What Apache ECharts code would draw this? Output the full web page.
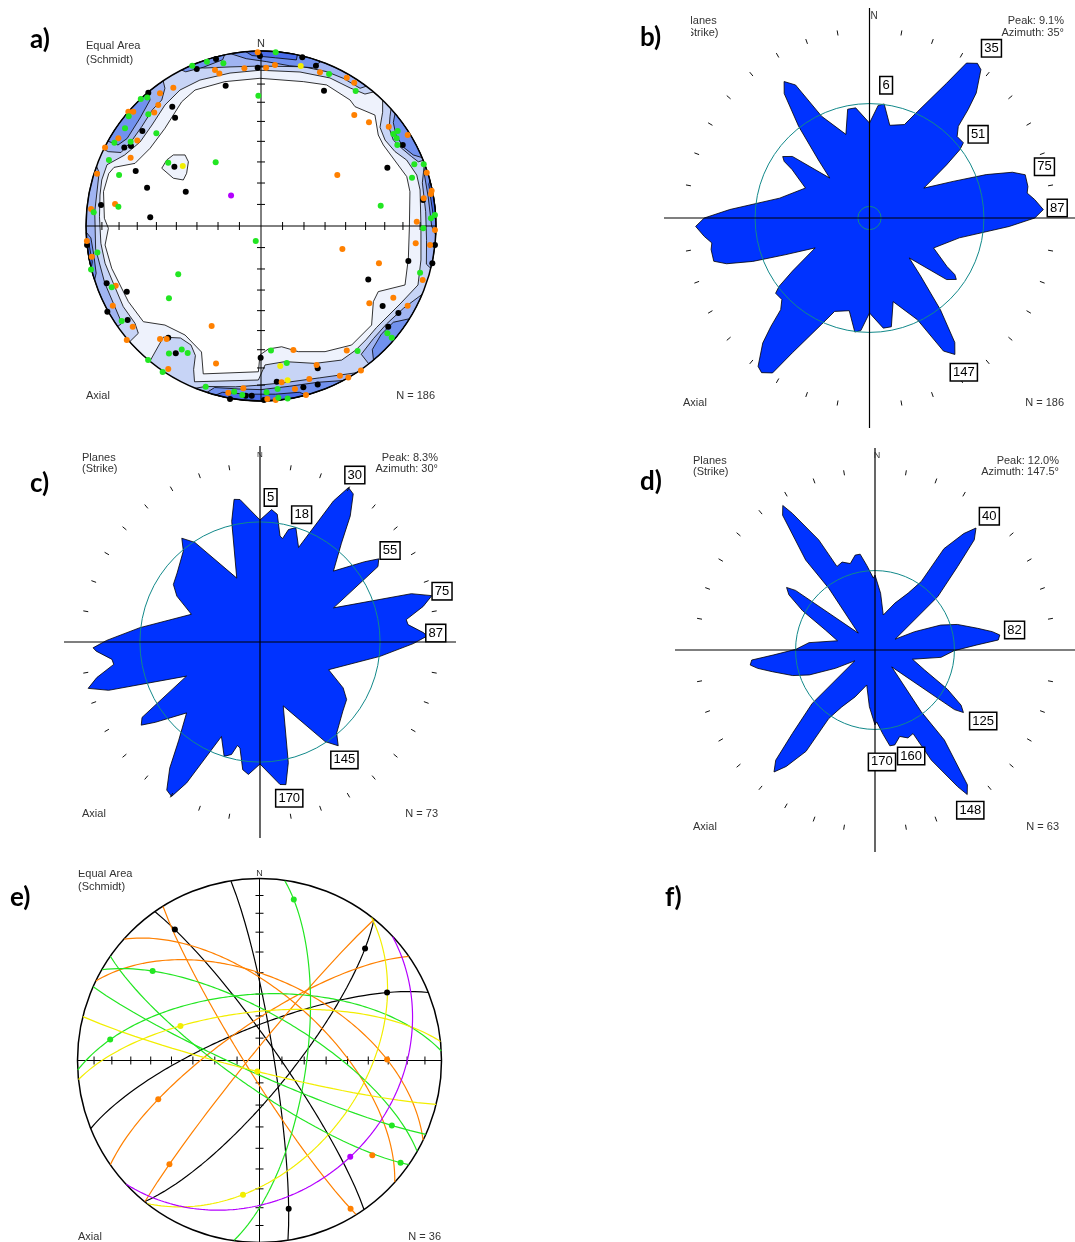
<!DOCTYPE html>
<html><head><meta charset="utf-8">
<script src="https://cdn.jsdelivr.net/npm/echarts/dist/echarts.min.js"></script>
<style>html,body{margin:0;padding:0;background:#fff}#c{width:1075px;height:1242px}</style>
</head><body><div id="c"></div><script>
// ---------------- DATA ----------------
// Rose b (strike, axial) : azimuth (deg) and frequency (%) for 0-180, mirrored
const roseB_az=[0,4.5,7.5,12.6,20.9,24.7,30.3,32.6,35.5,37.5,41.1,42.9,44.7,47.7,51.9,53.5,56,61.7,66.8,70,72.6,74.8,79,81.2,83.8,87.3,90,93.4,102.2,114.6,121.5,123,124.7,128,134.5,138,141.7,145,147.4,150.4,154.3,163.9,168.4,172.7];
const roseB_val=[4.55,5.41,5.51,4.55,4.79,5.60,7.47,8.81,9.10,8.96,7.95,7.09,6.18,5.80,5.84,5.51,4.55,3.02,4.45,6.08,7.33,7.90,7.90,7.81,8.14,8.52,8.09,6.85,4.50,3.45,4.45,4.98,5.17,4.79,2.73,3.74,5.60,7.28,7.76,7.33,5.41,4.17,5.32,5.32];
const roseB_labels=['6','35','51','75','87','147'];
const roseB_labelAz=[7.3,36.3,53,74,87,148];
const roseB_labelPx=[131,206,136,182,188,178];
// Rose c
const roseC_az=[0,5,7.7,10.7,12.3,14.2,17.4,22.2,27.5,29.8,32.2,35.6,39.5,46,52.5,55,57.4,65.1,72.3,74.9,77.7,81.3,83.3,86.8,88,90.6,96.8,112,118.9,123.6,129.8,139.9,143,146.8,160,166.8,169.7,172];
const roseC_val=[5.69,6.20,6.01,5.03,4.94,5.41,5.59,4.76,7.41,8.30,8.16,7.23,5.97,4.76,6.15,6.76,6.53,3.78,7.41,8.30,7.79,6.90,6.95,7.65,7.79,7.15,5.64,3.45,4.43,4.85,5.03,5.55,6.06,5.55,3.17,5.78,6.76,6.71];
const roseC_labels=['5','18','30','55','75','87','145','170'];
const roseC_labelAz=[4.2,18.1,29.6,54.9,74.4,87.1,144.4,169.4];
const roseC_labelPx=[145,134,192,159,189,176,145,159];
// Rose d
const roseD_az=[0,5.7,13.4,23.2,30.5,34.3,34.5,37.6,39.9,42.3,45,49.9,62,65.4,69.4,72.9,78.2,81.2,83.2,85.4,87.2,90.5,96.3,103.7,111.8,118.2,122.4,125,126.6,135,142.9,142.1,145.3,147.2,148.6,152.7,155.3,159.3,163.9,168.1,171.1,174.4,178.7];
const roseD_val=[5.23,3.98,2.51,3.56,4.61,5.79,8.58,10.26,11.10,10.40,8.23,5.79,1.61,3.07,4.95,6.07,7.40,8.37,8.86,8.72,7.19,5.58,4.68,2.72,3.77,5.79,7.19,7.61,6.98,1.67,5.37,7.96,11.44,12.0,11.17,8.65,6.42,6.56,6.28,6.77,6.77,5.93,5.02];
const roseD_labels=['40','82','125','148','160','170'];
const roseD_labelAz=[40.8,81.9,123,149,161,176.4];
const roseD_labelPx=[175,141,129,185,111,111];

// Stereonet a: poles, projected coordinates in percent of primitive radius (x east, y north)
const poleBlack=[[-25.7,95.4],[-36.7,89.7],[-64.4,76.2],[-50.7,68.2],[-49.1,61.9],[-67.8,54.3],[-78.1,44.8],[-74.3,45.7],[-71.6,31.4],[-65.1,21.9],[-43,19.6],[-49.5,33.9],[-20.2,80.2],[-91.4,12],[-63.3,5],[-1.9,90.5],[-0.6,97.1],[23.6,96.4],[31.4,91.6],[36,77.3],[81,46.3],[72.2,33.3],[92.6,14.9],[-99.4,-10.9],[-88.2,-32.7],[-76.7,-37.5],[-76.2,-53.7],[-87.8,-49],[-53,-63.8],[-48.7,-72.7],[-17.7,-98.9],[-8.7,-97],[-5.3,-97],[1.7,-99.4],[-0.2,-75.3],[9,-89],[24.2,-92.2],[32.4,-81.3],[32.4,-90.5],[69.5,-45.7],[78.5,-49.7],[72.7,-57.5],[61.3,-30.5],[84.2,-20],[97.9,-21.3],[99.4,-10.9]];
const poleOrange=[[-1.9,99.3],[-26.3,89.1],[-23.8,87.2],[-9.5,90.1],[-50.1,79],[-57.7,75.8],[-58.7,69.1],[-61,64.8],[-75.8,65.3],[-73,65.3],[-81.5,50.1],[-70.7,48.8],[-89.1,44.8],[-74.5,39],[-93.7,29.9],[-83.4,12.6],[-97.1,9.7],[2.9,90.5],[8,92],[33.7,87.8],[49,84.7],[53.3,81.9],[53.3,63.4],[61.7,59.3],[73,56.7],[83.8,52],[43.6,29.1],[94.7,30.5],[97.5,20.2],[93,15.8],[97.1,18.3],[89,2.5],[-96.7,-17.5],[-83,-34.1],[-84.7,-45.5],[-73.3,-57.5],[-76.7,-65.1],[-57.7,-64.6],[-53.9,-64.6],[-53,-81.7],[-28.2,-57.1],[-25.7,-78.5],[-18.7,-95.3],[-10.1,-92.7],[3.6,-98.9],[8.4,-99.4],[11.8,-89.3],[19.4,-93.1],[31.8,-79.4],[45.1,-85.5],[49.9,-86.6],[57.1,-82.5],[61.9,-44.2],[75.6,-41],[83.8,-45.5],[67.4,-21.3],[46.5,-13.1],[88.4,-9.9],[92.4,-30.9],[96.6,-10.9],[99.4,-2.3],[-99.5,-8.5],[18.5,-70.9],[49,-71.2],[27.6,-87.4],[25.7,-96.6]];
const poleGreen=[[-39.3,91.6],[-30.9,93.9],[-21.5,93],[-68.7,72.6],[-65,73.5],[-64.4,63.8],[-75.6,62.7],[-77.7,55.8],[-59.8,53],[-83.8,47.6],[-74.5,48.2],[-86.9,37.7],[-81.1,29.1],[-53,36.2],[-25.9,36.4],[-1.5,74.5],[-81.5,11],[-95.6,7.8],[8.4,99.3],[38.9,86.9],[54.1,77.1],[75.6,52.6],[78.1,54.3],[77.5,50.1],[77.9,46.3],[87.6,35.3],[93,35.3],[86.3,27.6],[68.4,11.6],[99.4,6.3],[97.1,4.4],[92.7,-1.3],[-93.5,-15.2],[-97.1,-24.8],[-85.3,-35],[-79.6,-54.3],[-52.6,-72.8],[-45.3,-70.5],[-41.9,-72.6],[-47.3,-27.6],[-52.6,-41.3],[-64.5,-76.5],[-56.2,-83.4],[-31.6,-91.8],[-15.3,-94.7],[-10.7,-96.6],[3.2,-95],[9.5,-93.1],[9.9,-98.1],[15.2,-98.5],[14.7,-78.3],[5.7,-71.2],[55.2,-71.4],[72.2,-61.3],[74.7,-63.8],[90.9,-26.7],[-3,-8.6]];
const poleYellow=[[-44.7,34.3],[22.7,91.4],[11,-80],[15.2,-88.2]];
const polePurple=[[-17.1,17.5]];

// Stereonet a: density contour edges (percent of radius)
const contourWhiteEdge=[[-0.6,84.4],[24.2,82.5],[37.5,80.6],[50.9,72],[53.7,68.2],[65.1,63.4],[67,52],[69.9,46.3],[83.3,28.2],[85.1,19.6],[84.8,-0.4],[84.2,-18.5],[82.3,-33.7],[67,-37.5],[64.2,-43.2],[63.2,-56.6],[51.8,-68],[36.6,-71.8],[21.3,-71.8],[11.8,-69],[4.2,-70.3],[-0.6,-73.7],[-1.5,-83.3],[-33,-84.5],[-34,-72],[-43.4,-62.3],[-54.9,-56.6],[-67.2,-54.7],[-75.8,-43.2],[-85.3,-24.2],[-89.1,-10.9],[-87.2,-1.3],[-89.5,4.4],[-90,19.6],[-87,30],[-84,33.5],[-72,35.8],[-63.4,44.4],[-54.9,55.8],[-45.3,71],[-37.7,77.7],[-20.6,82.5]];
const contourBand2Edge=[[-0.6,89],[22.3,88],[39.4,84.6],[50.9,78.9],[59.4,75.4],[64.3,76.6],[69.5,71.9],[69.5,65],[68,56.4],[70.9,49.1],[76.6,42.5],[83.2,37.7],[89,29.1],[90.9,20.6],[91.4,0],[91.4,-19.4],[89.7,-33.7],[80,-44],[72,-52],[66,-58],[60,-65],[54,-71],[46.1,-76.6],[30.9,-78.5],[13.7,-77.5],[2.3,-79.4],[-1.5,-88],[-38,-89],[-38.5,-82],[-37.5,-74],[-40,-68],[-46,-64],[-55.8,-63.5],[-63.5,-77.3],[-75,-66.1],[-70.1,-61.3],[-72,-55.6],[-78.7,-46.1],[-84.4,-32.7],[-89.1,-21.3],[-91.5,-9.9],[-92.3,5.3],[-92,17.7],[-91,26.3],[-88,35],[-78,40.5],[-69.1,48],[-62.3,57.7],[-54.9,69.1],[-46.3,77.7],[-34.9,83.4],[-17.7,87.4]];
const contourIsland=[[-56.7,33],[-53.9,37.7],[-50.1,40.6],[-43.4,40.6],[-41.5,36.7],[-42.5,30.1],[-44.4,26.3],[-50.1,27.3]];
const contourBand3=[
 [[-42.3,90.6],[60.2,79.9],[56.6,78.7],[47,84.4],[37.5,88.2],[24.2,91],[-0.6,91.4],[-17.7,90.9],[-32,90.3]],
 [[-89.9,43.8],[-55.9,82.9],[-54.9,78.7],[-56.7,72],[-62,66.5],[-68,57],[-74,48.5],[-80,42],[-87.3,42.5]],
 [[74.3,66.9],[92.7,37.5],[89.9,36.7],[86.1,39.6],[80.4,44.4],[75.6,49.1],[73.3,55.8],[73.7,62.5]],
 [[93.4,35.8],[97,-24.2],[94.5,-21.8],[94.6,-8.3],[94.1,8.2],[92.2,24.7]],
 [[92,-39.1],[61.6,-78.8],[57.3,-73.3],[64.3,-64.3],[71.7,-56],[81.4,-47]],
 [[54.5,-83.9],[-37.5,-92.7],[-31.6,-91.7],[-14.5,-91.9],[-1.6,-91],[14.2,-89.4],[33.3,-86.8]],
 [[-81.9,-57.4],[-94,34.2],[-92.5,30.5],[-95,8.2],[-94.5,-13.1],[-89.3,-32.5],[-79.5,-55.6]]
];
const contourBand4=[
 [[-17.4,98.5],[34.2,94],[29.4,90.4],[16.1,91.6],[3.3,93.9],[-8.4,95.6]],
 [[-45.4,89.1],[-20.8,97.8],[-21.9,95],[-33,90.7],[-43,88.1]],
 [[-87.5,48.5],[-64.3,76.6],[-63.4,72],[-69.1,61.7],[-76.5,50],[-81.7,46.3]],
 [[76.6,64.3],[92.1,39.1],[87,40.6],[81.3,45.1],[77.1,52],[75.6,59.1]],
 [[94,34.2],[99.9,-5.2],[97.5,0],[95.5,16.8],[93.2,30.3]],
 [[84.8,-53],[64.3,-76.6],[63.6,-70.6],[68.7,-61.9],[75.6,-55]],
 [[46.9,-88.3],[-30.9,-95.1],[-26.5,-92.3],[-13.1,-93.1],[0,-93.5],[16.1,-91.6],[32.5,-89.3]],
 [[-95.1,-30.9],[-99.9,-3.5],[-97.2,-6.8],[-95.5,-16.8],[-94.2,-27]]
];
const contourBand5=[
 [[-8.7,99.6],[20.8,97.8],[20.2,94.9],[8.4,96.1],[-5.1,97.4]],
 [[25.9,-96.6],[-25.9,-96.6],[-21.9,-95],[-8.4,-96.1],[8.4,-96.1],[21.9,-95]],
 [[96.6,25.9],[99.9,3.5],[98.3,6.9],[96.8,17.1],[95.9,23.9]],
 [[-97,-24.2],[-99.8,-7],[-98.3,-10.3],[-96.4,-20.5]]
];

// Stereonet e: planes (dip direction, dip), colour set, lineations on planes (trend), one pole
const ePlaneDipDir=[81,55,338,129,238,42,26,309,325,98,30,357,215,204,128,354,194,137];
const ePlaneDip=[83.5,82,75,76,84,60,53,86,74,69,69,60,78,84,44,68,85,28];
const ePlaneSet=['k','k','k','k','o','o','o','o','o','g','g','g','g','g','y','y','y','p'];
const eDotPlane=[1,3,2,0,6,4,8,7,9,10,11,12,13,14,15,16,17];
const eDotTrend=[327.2,43.2,61.9,168.9,89.6,148.5,249,220.9,12,310,278,126,116.2,187,293.7,191,136.8];
const ePoleX=[0.62], ePoleY=[-0.522], ePoleSet=['o'];

// ---------------- RENDER ----------------
const D=Math.PI/180;
const FONT='"Liberation Sans", Arial, sans-serif';
const COL={k:'#000000',o:'#ff8000',g:'#22e622',y:'#f2ee00',p:'#b400ff'};
const BAND=['#ffffff','#eef2fc','#c7d4f6','#a0b4f2','#7191ee','#4a6de9'];
const chart=echarts.init(document.getElementById('c'));

const gridDefs=[[86,51,350,100],[664,8,420,10.06],[64,446,392,9.14],[675,448,404,14.1],[77.5,879,364,1]];
const grids=gridDefs.map(g=>({left:g[0],top:g[1],width:g[2],height:g[2],containLabel:false,show:false}));
const xAxes=gridDefs.map((g,i)=>({type:'value',gridIndex:i,min:-g[3],max:g[3],show:false}));
const yAxes=gridDefs.map((g,i)=>({type:'value',gridIndex:i,min:-g[3],max:g[3],show:false}));

function densify(pts){
  const out=[],n=pts.length;
  const cl=p=>{const r=Math.hypot(p[0],p[1]);return r>100?[p[0]*100/r,p[1]*100/r]:p;};
  for(let i=0;i<n;i++){
    const a=pts[i],b=pts[(i+1)%n];
    out.push(cl(a));
    if(Math.hypot(a[0],a[1])>=99.3&&Math.hypot(b[0],b[1])>=99.3){
      const ta=Math.atan2(a[0],a[1]);let d=Math.atan2(b[0],b[1])-ta;
      while(d>Math.PI)d-=2*Math.PI;while(d<-Math.PI)d+=2*Math.PI;
      const st=Math.ceil(Math.abs(d)/(Math.PI/90));
      for(let k=1;k<st;k++){const t=ta+d*k/st;out.push([100*Math.sin(t),100*Math.cos(t)]);}
    }
  }
  return out;
}
function lineEl(p1,p2,w,c){return {type:'line',shape:{x1:p1[0],y1:p1[1],x2:p2[0],y2:p2[1]},style:{stroke:c||'#000',lineWidth:w}};}
function netFrame(api,unit,ch){
  const o=api.coord([0,0]),R=api.coord([unit,0])[0]-o[0];
  ch.push({type:'circle',shape:{cx:o[0],cy:o[1],r:R},style:{fill:'none',stroke:'#000',lineWidth:1.5}});
  ch.push(lineEl(api.coord([-unit,0]),api.coord([unit,0]),1));
  ch.push(lineEl(api.coord([0,-unit]),api.coord([0,unit]),1));
  for(let k=1;k<=8;k++){
    const rr=unit*Math.SQRT2*Math.sin(5*k*D);
    [[rr,0],[-rr,0]].forEach(q=>{const p=api.coord(q);ch.push(lineEl([p[0],p[1]-4],[p[0],p[1]+4],1));});
    [[0,rr],[0,-rr]].forEach(q=>{const p=api.coord(q);ch.push(lineEl([p[0]-4,p[1]],[p[0]+4,p[1]],1));});
  }
}
function renderNetA(params,api){
  const ch=[];const o=api.coord([0,0]),R=api.coord([100,0])[0]-o[0];
  const poly=(pts,fill)=>({type:'polygon',shape:{points:densify(pts).map(p=>api.coord(p))},style:{fill:fill,stroke:'#000',lineWidth:0.8}});
  ch.push({type:'circle',shape:{cx:o[0],cy:o[1],r:R},style:{fill:BAND[2]}});
  ch.push(poly(contourBand2Edge,BAND[1]));
  ch.push(poly(contourWhiteEdge,BAND[0]));
  ch.push(poly(contourIsland,BAND[1]));
  contourBand3.forEach(p=>ch.push(poly(p,BAND[3])));
  contourBand4.forEach(p=>ch.push(poly(p,BAND[4])));
  contourBand5.forEach(p=>ch.push(poly(p,BAND[5])));
  netFrame(api,100,ch);
  return {type:'group',children:ch};
}
function renderNetE(params,api){const ch=[];netFrame(api,1,ch);return {type:'group',children:ch};}

function makeRose(az,val,tickRing,range,labels,labAz,labPx,innerCircle){
  return function(params,api){
    const o=api.coord([0,0]),ppu=api.coord([1,0])[0]-o[0];
    const P=(v,a)=>api.coord([v*Math.sin(a*D),v*Math.cos(a*D)]);
    const pts=[];for(let h=0;h<2;h++)for(let i=0;i<az.length;i++)pts.push(P(val[i],az[i]+180*h));
    const ch=[];
    ch.push({type:'polygon',shape:{points:pts},style:{fill:'#0033ff',stroke:'#000',lineWidth:0.8}});
    ch.push({type:'circle',shape:{cx:o[0],cy:o[1],r:5.6*ppu},style:{fill:'none',stroke:'#12898a',lineWidth:1}});
    if(innerCircle)ch.push({type:'circle',shape:{cx:o[0],cy:o[1],r:innerCircle*ppu},style:{fill:'none',stroke:'#12898a',lineWidth:1}});
    ch.push(lineEl(api.coord([-range,0]),api.coord([range,0]),1.2));
    ch.push(lineEl(api.coord([0,-range]),api.coord([0,range]),1.2));
    for(let a=10;a<360;a+=10){if(a%90===0)continue;ch.push(lineEl(P(tickRing-2.5/ppu,a),P(tickRing+2.5/ppu,a),1,'#111'));}
    labels.forEach((t,i)=>{const p=P(labPx[i]/ppu,labAz[i]);
      ch.push({type:'text',x:p[0],y:p[1],style:{text:t,fontSize:13,fontFamily:FONT,fill:'#000',align:'center',verticalAlign:'middle',backgroundColor:'#fff',borderColor:'#000',borderWidth:1.5,padding:[2,2,1,2]}});});
    return {type:'group',children:ch};
  };
}
function proj(tr,pl){const r=Math.SQRT2*Math.sin((90-pl)/2*D);return [r*Math.sin(tr*D),r*Math.cos(tr*D)];}
function plungeOn(i,tr){let d=tr-ePlaneDipDir[i];while(d>180)d-=360;while(d<-180)d+=360;return Math.atan(Math.tan(ePlaneDip[i]*D)*Math.cos(d*D))/D;}

const series=[];
const cs=(gi,fn,z)=>({type:'custom',coordinateSystem:'cartesian2d',xAxisIndex:gi,yAxisIndex:gi,data:[[0,0]],renderItem:fn,silent:true,animation:false,clip:false,z:z});
series.push(cs(0,renderNetA,2));
series.push(cs(1,makeRose(roseB_az,roseB_val,9.0,10.06,roseB_labels,roseB_labelAz,roseB_labelPx,0.57),2));
series.push(cs(2,makeRose(roseC_az,roseC_val,8.25,9.14,roseC_labels,roseC_labelAz,roseC_labelPx,0),2));
series.push(cs(3,makeRose(roseD_az,roseD_val,12.56,14.1,roseD_labels,roseD_labelAz,roseD_labelPx,0),2));
series.push(cs(4,renderNetE,2));
[[poleBlack,'k'],[poleOrange,'o'],[poleGreen,'g'],[poleYellow,'y'],[polePurple,'p']].forEach(s=>{
  series.push({type:'scatter',xAxisIndex:0,yAxisIndex:0,data:s[0],symbolSize:6,itemStyle:{color:COL[s[1]],opacity:1},silent:true,animation:false,z:5});
});
ePlaneDipDir.forEach((dd,i)=>{
  const pts=[];for(let t=-90;t<=90;t+=1){pts.push(proj(dd+t,plungeOn(i,dd+t)));}
  series.push({type:'line',xAxisIndex:4,yAxisIndex:4,data:pts,showSymbol:false,symbol:'none',lineStyle:{color:COL[ePlaneSet[i]],width:1.2},silent:true,animation:false,z:3});
});
['k','o','g','y','p'].forEach(c=>{
  const d=[];
  eDotPlane.forEach((pi,j)=>{if(ePlaneSet[pi]===c)d.push(proj(eDotTrend[j],plungeOn(pi,eDotTrend[j])));});
  ePoleX.forEach((x,j)=>{if(ePoleSet[j]===c)d.push([x,ePoleY[j]]);});
  if(d.length)series.push({type:'scatter',xAxisIndex:4,yAxisIndex:4,data:d,symbolSize:6,itemStyle:{color:COL[c],opacity:1},silent:true,animation:false,z:5});
});

const T=(t,x,y,al,sz,z)=>({type:'text',x:x,y:y,z:z||100,style:{text:t,font:(sz||11)+'px '+FONT,fill:'#333',align:al||'left',verticalAlign:'middle'}});
const L=(t,x,y)=>({type:'text',x:x,y:y,z:110,style:{text:t,font:'bold 26px Lato, "Liberation Sans", sans-serif',fill:'#000',align:'left',verticalAlign:'middle'}});
const graphic=[
  T('Equal Area',86,46),T('(Schmidt)',86,60),T('N',261,44,'center'),T('Axial',86,396),T('N = 186',435,396,'right'),
  T('Planes',683,21),T('(Strike)',683,33),T('Peak: 9.1%',1064,21,'right'),T('Azimuth: 35°',1064,33,'right'),T('Axial',683,403),T('N = 186',1064,403,'right'),T('N',874,16,'center',10),
  T('Planes',82,458),T('(Strike)',82,469),T('Peak: 8.3%',438,458,'right'),T('Azimuth: 30°',438,469,'right'),T('Axial',82,814),T('N = 73',438,814,'right'),T('N',260,455,'center',8),
  T('Planes',693,461),T('(Strike)',693,472),T('Peak: 12.0%',1059,461,'right'),T('Azimuth: 147.5°',1059,472,'right'),T('Axial',693,827),T('N = 63',1059,827,'right'),T('N',877,456,'center',9),
  T('Equal Area',78,874),T('(Schmidt)',78,887),T('N',259.5,874,'center',9),T('Axial',78,1237),T('N = 36',441,1237,'right'),
  {type:'rect',z:105,shape:{x:618,y:8,width:73,height:48},style:{fill:'#fff'}},
  {type:'rect',z:105,shape:{x:55,y:850,width:400,height:20},style:{fill:'#fff'}},
  L('a)',30,40),L('b)',640,38),L('c)',30,484),L('d)',640,482),L('e)',10,898),L('f)',665,898)
];

chart.setOption({animation:false,backgroundColor:'#fff',grid:grids,xAxis:xAxes,yAxis:yAxes,series:series,graphic:graphic});
</script></body></html>
